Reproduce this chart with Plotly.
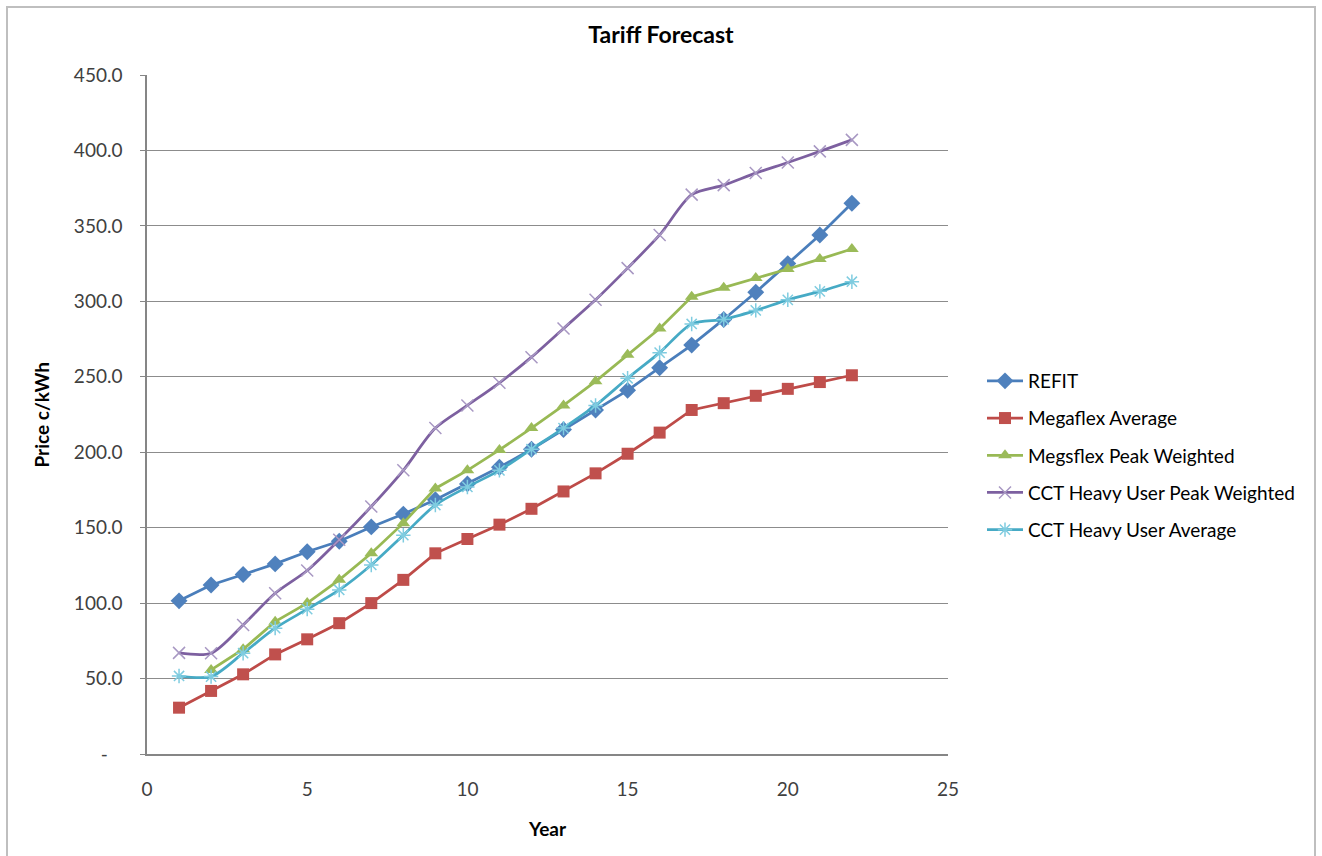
import plotly.graph_objects as go

years = list(range(1, 23))
years_peak = list(range(2, 23))

refit = [101.5, 112, 119, 126, 134, 141, 150.5, 159, 168.5, 179, 190, 202, 215, 228, 241, 256, 271, 288, 306, 325, 344, 365]
megaflex_avg = [30.7, 41.8, 52.8, 66, 76, 86.7, 100, 115.4, 133, 142.5, 152, 162.5, 174, 186, 199, 213, 228, 232.5, 237.4, 242, 246.5, 251]
megsflex_peak = [55.7, 69.4, 87.7, 100, 115.4, 133, 153, 176, 188, 201.5, 216, 231, 247, 264.6, 282, 303, 309, 315.4, 321.4, 328, 334.7]
cct_peak = [67, 66.8, 85.5, 106.5, 121.6, 142, 164, 188, 216, 231, 246, 263, 282, 301, 322, 344, 370.7, 377, 385, 392, 399.4, 407]
cct_avg = [51.7, 51.3, 66.8, 83.4, 96, 108.7, 125.3, 145, 165, 177, 188, 202, 216, 231, 249, 266, 285, 288, 294, 301, 306.6, 313]

y_tickvals = [0, 50, 100, 150, 200, 250, 300, 350, 400, 450]
y_ticktext = ["-\u00a0\u00a0\u00a0", "50.0", "100.0", "150.0", "200.0", "250.0", "300.0", "350.0", "400.0", "450.0"]
x_tickvals = [0, 5, 10, 15, 20, 25]

FONT = "Lato"
fig = go.Figure()

fig.add_trace(go.Scatter(x=years, y=refit, name="REFIT", mode="lines+markers", legendgroup="a",
                         line=dict(color="#4A7EBB", width=2.75),
                         marker=dict(symbol="diamond", size=13, color="#4F81BD", line=dict(width=0))))
fig.add_trace(go.Scatter(x=years, y=megaflex_avg, name="Megaflex Average", mode="lines+markers", legendgroup="b",
                         line=dict(color="#BE4B48", width=2.75),
                         marker=dict(symbol="square", size=12, color="#C0504D", line=dict(width=0))))
fig.add_trace(go.Scatter(x=years_peak, y=megsflex_peak, name="Megsflex Peak Weighted", mode="lines+markers", legendgroup="c",
                         line=dict(color="#98B954", width=2.75),
                         marker=dict(symbol="triangle-up", size=12, color="#9BBB59", line=dict(width=0))))
fig.add_trace(go.Scatter(x=years, y=cct_peak, name="CCT Heavy User Peak Weighted", mode="lines+markers", legendgroup="d",
                         line=dict(color="#7D60A0", width=2.75, shape="spline", smoothing=0.8),
                         marker=dict(symbol="x-thin-open", size=12, color="#A898C3", line=dict(width=1.5, color="#A898C3"))))
fig.add_trace(go.Scatter(x=years, y=cct_avg, name="CCT Heavy User Average", mode="lines+markers", legendgroup="e",
                         line=dict(color="#46AAC5", width=2.75, shape="spline", smoothing=0.8),
                         marker=dict(symbol="asterisk-open", size=12, color="#7FCCE0", line=dict(width=1.5, color="#7FCCE0"))))

ml, mr, mt, mb = 147, 374, 75, 102
W, H = 1322, 856
pw, ph = W - ml - mr, H - mt - mb

def px_x(px):
    return (px - ml) / pw

def px_y(py):
    return (H - mb - py) / ph

fig.update_layout(
    width=W, height=H,
    margin=dict(l=ml, r=mr, t=mt, b=mb),
    paper_bgcolor="white", plot_bgcolor="white",
    font=dict(family=FONT, size=19, color="#404040"),
    title=dict(text="<b>Tariff Forecast</b>", x=0.5, xref="container", xanchor="center",
               y=1 - 35 / H, yref="container", yanchor="middle",
               font=dict(family=FONT, size=23, color="#000000")),
    showlegend=True,
    legend=dict(x=px_x(982), xanchor="left", y=px_y(362), yanchor="top",
                font=dict(family=FONT, size=19, color="#000000"),
                tracegroupgap=9.5, itemwidth=36, bgcolor="rgba(0,0,0,0)"),
    xaxis=dict(range=[0, 25], tickvals=x_tickvals, showgrid=False, zeroline=False,
               showline=True, linecolor="#868686", linewidth=1.5, ticks="",
               ticklabelstandoff=17, tickfont=dict(family=FONT, size=19, color="#404040")),
    yaxis=dict(range=[0, 450], tickvals=y_tickvals, ticktext=y_ticktext, showgrid=True,
               gridcolor="#8C8C8C", gridwidth=1.2, zeroline=False,
               showline=True, linecolor="#868686", linewidth=1.5, ticks="outside", ticklen=5,
               tickcolor="#868686", ticklabelstandoff=14,
               tickfont=dict(family=FONT, size=19, color="#404040")),
    shapes=[dict(type="rect", xref="paper", yref="paper",
                 x0=px_x(7), x1=px_x(1315), y0=px_y(870), y1=px_y(7),
                 line=dict(color="#BFBFBF", width=2), fillcolor="rgba(0,0,0,0)", layer="below")],
    annotations=[
        dict(text="<b>Year</b>", xref="paper", yref="paper", x=0.5, y=px_y(828),
             xanchor="center", yanchor="middle", showarrow=False,
             font=dict(family=FONT, size=19, color="#000000")),
        dict(text="<b>Price c/kWh</b>", xref="paper", yref="paper", x=px_x(41), y=0.5,
             xanchor="center", yanchor="middle", showarrow=False, textangle=-90,
             font=dict(family=FONT, size=19, color="#000000")),
    ],
)

fig.write_html("out.html")
